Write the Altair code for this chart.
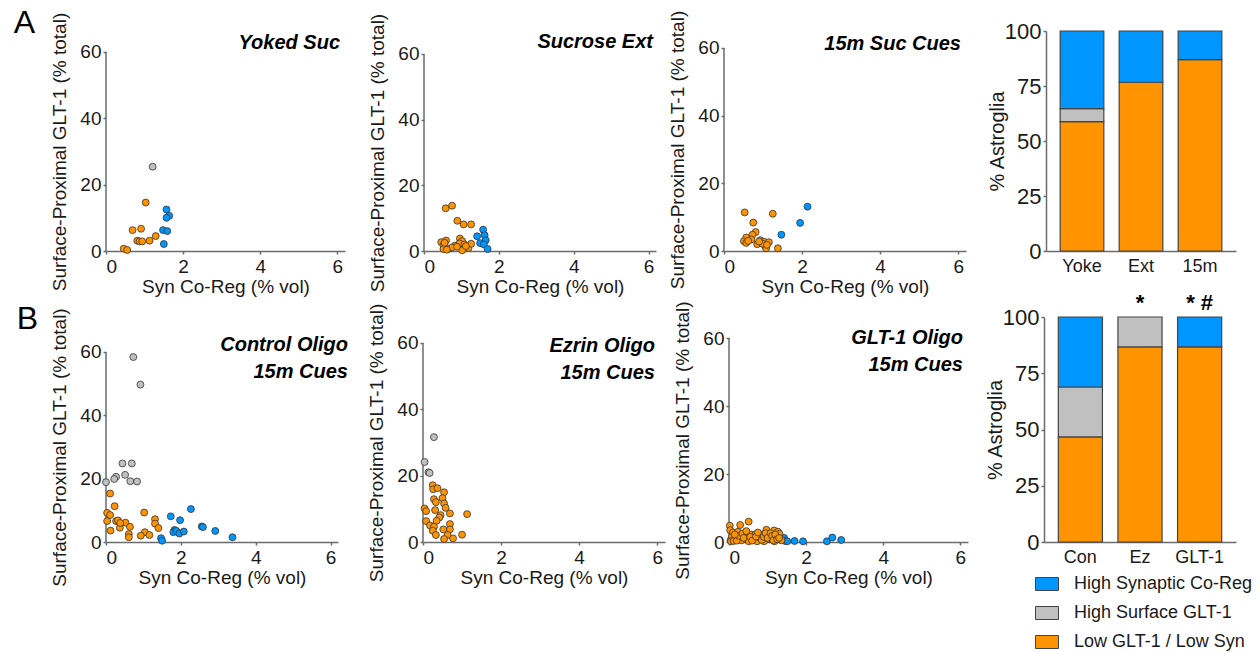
import altair as alt
import pandas as pd

FONT = "Liberation Sans"
INK = "#1a1a1a"
AXIS_GRAY = "#6b6b6b"

CATEGORIES = ["High Synaptic Co-Reg", "High Surface GLT-1", "Low GLT-1 / Low Syn"]
CAT_COLORS = ["#0096FF", "#C0C0C0", "#FF9300"]

# ---------------- Panel A1: Yoked Suc
yoked_low_x = [1.03, 0.69, 0.91, 1.29, 0.81, 0.87, 0.94, 1.13, 0.46, 0.55]
yoked_low_y = [14.6, 6.3, 6.7, 4.5, 3.1, 2.9, 2.9, 3.1, 0.7, 0.3]
yoked_surf_x = [1.21]
yoked_surf_y = [25.4]
yoked_syn_x = [1.57, 1.64, 1.57, 1.48, 1.59, 1.50]
yoked_syn_y = [12.5, 10.6, 10.0, 6.3, 6.0, 2.1]

# ---------------- Panel A2: Sucrose Ext
ext_low_x = [0.58, 0.75, 0.89, 1.06, 1.26, 0.46, 0.59, 0.52, 0.66, 0.52, 0.83, 0.96,
             1.02, 0.95, 1.08, 1.02, 1.19, 1.26, 0.75, 0.61, 0.55, 0.88, 1.12]
ext_low_y = [13.0, 13.8, 9.2, 8.1, 8.1, 2.7, 3.2, 1.75, 0.7, 0.6, 1.65, 3.8,
             3.0, 2.3, 2.0, 0.2, 0.9, 2.2, 1.1, 0.4, 2.5, 1.3, 1.5]
ext_surf_x = []
ext_surf_y = []
ext_syn_x = [1.58, 1.42, 1.62, 1.65, 1.50, 1.60, 1.70]
ext_syn_y = [6.5, 4.5, 4.8, 3.3, 2.4, 2.0, 0.6]

# ---------------- Panel A3: 15m Suc Cues
cue_low_x = [0.53, 1.25, 0.75, 0.81, 0.73, 0.57, 0.70, 0.51, 0.57, 0.93, 1.03, 1.15,
             0.85, 1.05, 1.08, 1.38, 0.98, 1.10, 0.62, 0.90]
cue_low_y = [11.4, 11.0, 8.4, 5.6, 4.8, 4.0, 3.4, 2.9, 2.4, 3.2, 2.7, 2.6,
             2.0, 1.5, 0.8, 0.8, 2.2, 1.8, 3.0, 2.8]
cue_surf_x = []
cue_surf_y = []
cue_syn_x = [2.14, 1.95, 1.47]
cue_syn_y = [13.1, 8.3, 4.8]

# ---------------- Panel B1: Control Oligo 15m Cues
con_low_x = [0.11, 0.23, 0.03, 0.11, 1.02, 0.03, 0.27, 0.32, 0.52, 1.31, 1.31,
             0.64, 0.37, 0.12, 1.40, 1.04, 0.61, 0.93, 1.16, 0.61, 0.38]
con_low_y = [15.3, 11.3, 9.2, 8.5, 9.3, 6.6, 6.6, 6.8, 6.1, 7.2, 5.8,
             4.8, 4.5, 3.6, 4.4, 3.1, 2.5, 2.0, 2.2, 1.5, 6.0]
con_surf_x = [0.73, 0.92, 0.44, 0.69, 0.51, 0.27, 0.22, 0.65, 0.83, 0.00]
con_surf_y = [58.4, 49.7, 24.8, 24.8, 21.2, 20.6, 19.9, 19.2, 19.1, 18.9]
con_syn_x = [1.73, 2.27, 1.98, 1.83, 1.80, 1.88, 1.96, 2.08, 2.56, 2.59, 2.92, 3.38, 1.47, 1.50]
con_syn_y = [8.1, 10.4, 6.9, 3.8, 3.1, 3.5, 2.7, 3.3, 4.9, 4.7, 3.5, 1.5, 1.2, 0.4]

# ---------------- Panel B2: Ezrin Oligo 15m Cues
ez_low_x = [0.25, 0.26, 0.37, 0.54, 0.28, 0.50, 0.33, 0.54, 0.58, 0.04, 0.08, 0.31, 0.45,
            0.69, 1.13, 0.42, 0.35, 0.08, 0.69, 0.18, 0.28, 0.69, 0.52, 0.25, 0.33, 0.63,
            1.00, 0.54, 0.77]
ez_low_y = [17.1, 15.9, 16.2, 15.0, 12.9, 13.2, 12.0, 11.6, 10.3, 10.1, 9.3, 9.6, 8.1,
            8.6, 8.4, 7.4, 6.4, 6.3, 5.4, 5.0, 4.6, 3.8, 3.8, 3.4, 2.1, 2.1,
            2.2, 0.9, 1.1]
ez_surf_x = [0.28, 0.04, 0.14, 0.17]
ez_surf_y = [31.6, 24.1, 21.0, 20.8]
ez_syn_x = []
ez_syn_y = []

# ---------------- Panel B3: GLT-1 Oligo 15m Cues
glt_low_x = [0.02, 0.03, 0.29, 0.51, 0.10, 0.23, 0.04, 0.08, 0.16, 0.32, 0.41, 0.45, 0.51,
             0.58, 0.62, 0.68, 0.73, 0.80, 0.86, 0.91, 0.97, 1.01, 1.05, 1.17, 1.23, 1.27,
             1.31, 1.10, 1.18, 1.36, 0.05, 0.12, 0.20, 0.25, 0.35, 0.38, 0.55, 0.60, 0.70,
             0.75, 0.85, 0.90, 0.95, 1.00, 1.08, 1.12, 1.15, 1.20, 1.25, 1.30, 0.45, 0.15]
glt_low_y = [4.8, 3.5, 5.0, 6.0, 2.8, 3.0, 0.5, 1.5, 1.0, 0.5, 2.0, 1.0, 0.2,
             2.2, 1.0, 2.2, 0.2, 1.2, 2.2, 0.2, 3.6, 2.0, 0.8, 3.4, 1.6, 3.0,
             2.4, 1.0, 0.2, 0.5, 0.2, 0.3, 0.4, 1.8, 2.5, 1.2, 1.5, 0.4, 1.6,
             2.8, 0.6, 1.5, 2.6, 1.2, 2.6, 1.8, 0.5, 2.2, 0.8, 1.2, 3.2, 2.2]
glt_surf_x = []
glt_surf_y = []
glt_syn_x = [1.43, 1.46, 1.51, 1.70, 1.92, 2.54, 2.68, 2.91]
glt_syn_y = [1.2, 0.3, 0.2, 0.3, 0.2, 0.2, 1.3, 0.6]

# ---------------- Stacked bars (% Astroglia)
bar_a_groups = ["Yoke", "Ext", "15m"]
bar_a_low = [58.8, 76.7, 87.0]
bar_a_surf = [5.9, 0.0, 0.0]
bar_a_syn = [35.3, 23.3, 13.0]
bar_a_marks = ["", "", ""]

bar_b_groups = ["Con", "Ez", "GLT-1"]
bar_b_low = [46.7, 86.7, 86.7]
bar_b_surf = [22.2, 13.3, 0.0]
bar_b_syn = [31.1, 0.0, 13.3]
bar_b_marks = ["", "*", "* #"]

COLOR_SCALE = alt.Scale(domain=CATEGORIES, range=CAT_COLORS)


def points_df(low, surf, syn):
    rows = []
    for (xs, ys), cat in zip((syn, surf, low), CATEGORIES):
        for x, y in zip(xs, ys):
            rows.append({"x": x, "y": y, "cat": cat})
    return pd.DataFrame(rows)


def scatter(low, surf, syn, title, w, h, ymax, tdx, tdy, letter=None, ldx=0, ldy=0):
    df = points_df(low, surf, syn)
    xs = alt.Scale(domain=[0, 6.2], nice=False, zero=True)
    ys = alt.Scale(domain=[0, ymax], nice=False, zero=True)
    xaxis = alt.Axis(values=[0, 2, 4, 6], title="Syn Co-Reg (% vol)", titlePadding=1,
                     labelPadding=3)
    yaxis = alt.Axis(values=[0, 20, 40, 60], domain=False,
                     title="Surface-Proximal GLT-1 (% total)",
                     titleY=h * (1 - 30.0 / ymax), titlePadding=10)
    line = alt.Chart(pd.DataFrame({"k": [0]})).mark_rule(
        color=AXIS_GRAY, strokeWidth=1.5).encode(
        x=alt.XDatum(0, type="quantitative", scale=xs, axis=xaxis),
        y=alt.YDatum(0, type="quantitative", scale=ys, axis=yaxis),
        y2=alt.Y2Datum(60),
    )
    pts = alt.Chart(df).mark_circle(size=48, opacity=1, stroke="#333333",
                                    strokeWidth=0.8).encode(
        x=alt.X("x:Q", scale=xs, axis=xaxis),
        y=alt.Y("y:Q", scale=ys, axis=yaxis),
        color=alt.Color("cat:N", scale=COLOR_SCALE, legend=None),
    )
    txt = alt.Chart(pd.DataFrame({"t": [title]})).mark_text(
        align="right", baseline="alphabetic", dx=tdx, dy=tdy, font=FONT,
        fontSize=20, fontWeight="bold", fontStyle="italic", lineBreak="\n",
        lineHeight=27, color="#000000").encode(
        x=alt.XDatum(6.2, type="quantitative", scale=xs, axis=xaxis),
        y=alt.YDatum(60, type="quantitative", scale=ys, axis=yaxis),
        text="t:N",
    )
    props = dict(width=w, height=h)
    if letter:
        props["title"] = alt.TitleParams(letter, anchor="start", frame="bounds",
                                         dx=ldx, dy=ldy, fontSize=32,
                                         fontWeight="normal", font=FONT,
                                         color="#000000")
    return alt.layer(line, pts, txt).properties(**props)


def bars(groups, low, surf, syn, marks, w, h, legend=None):
    rows = []
    for g, l, s, b in zip(groups, low, surf, syn):
        for cat, v, o in ((CATEGORIES[2], l, 0), (CATEGORIES[1], s, 1), (CATEGORIES[0], b, 2)):
            if v > 0:
                rows.append({"g": g, "v": v, "cat": cat, "o": o})
    df = pd.DataFrame(rows)
    xsc = alt.Scale(domain=groups, paddingInner=0.26, paddingOuter=0.24)
    xaxis = alt.Axis(title=None, labelAngle=0, ticks=False, labelPadding=6,
                     labelFontSize=18)
    base = alt.Chart(df).mark_bar(stroke="#444444", strokeWidth=1.2).encode(
        x=alt.X("g:N", scale=xsc, sort=groups, axis=xaxis),
        y=alt.Y("v:Q", stack="zero", scale=alt.Scale(domain=[0, 100], nice=False),
                axis=alt.Axis(values=[0, 25, 50, 75, 100], title="% Astroglia",
                              labelFontSize=22, titleFontSize=20, titlePadding=-3)),
        color=alt.Color("cat:N", scale=COLOR_SCALE, legend=legend),
        order=alt.Order("o:Q", sort="ascending"),
    )
    layers = [base]
    if any(marks):
        star = alt.Chart(pd.DataFrame({"g": groups, "s": marks})).mark_text(
            baseline="alphabetic", dy=-7, fontSize=22, fontWeight="bold",
            font=FONT, color="#000000").encode(
            x=alt.X("g:N", scale=xsc, sort=groups, axis=xaxis),
            y=alt.YDatum(100, type="quantitative"),
            text="s:N",
        )
        layers.append(star)
    return alt.layer(*layers).properties(width=w, height=h)


def chain(panels, spacings):
    if len(panels) == 1:
        return panels[0]
    inner = chain(panels[1:], spacings[1:])
    return alt.hconcat(panels[0], inner, spacing=spacings[0]).resolve_scale(
        color="independent").resolve_legend(color="independent")


HA = 220
HB = 225

a1 = scatter((yoked_low_x, yoked_low_y), (yoked_surf_x, yoked_surf_y),
             (yoked_syn_x, yoked_syn_y), "Yoked Suc", 239, HA, 66.3, -5, -3,
             letter="A", ldx=-37, ldy=32)
a2 = scatter((ext_low_x, ext_low_y), (ext_surf_x, ext_surf_y), (ext_syn_x, ext_syn_y),
             "Sucrose Ext", 232, HA, 67.0, -3, -6)
a3 = scatter((cue_low_x, cue_low_y), (cue_surf_x, cue_surf_y), (cue_syn_x, cue_syn_y),
             "15m Suc Cues", 242, HA, 65.0, -5, 2)
bar_a = bars(bar_a_groups, bar_a_low, bar_a_surf, bar_a_syn, bar_a_marks, 190, HA)

b1 = scatter((con_low_x, con_low_y), (con_surf_x, con_surf_y), (con_syn_x, con_syn_y),
             "Control Oligo\n15m Cues", 232, HB, 71.05, 10, -1,
             letter="B", ldx=-34, ldy=32)
b2 = scatter((ez_low_x, ez_low_y), (ez_surf_x, ez_surf_y), (ez_syn_x, ez_syn_y),
             "Ezrin Oligo\n15m Cues", 242, HB, 67.8, -10, 9)
b3 = scatter((glt_low_x, glt_low_y), (glt_surf_x, glt_surf_y), (glt_syn_x, glt_syn_y),
             "GLT-1 Oligo\n15m Cues", 239, HB, 66.2, -5, 6)
legend = alt.Legend(orient="none", legendX=-6, legendY=258, title=None,
                    symbolType="M-1.77,-1L1.77,-1L1.77,1L-1.77,1Z", symbolSize=169,
                    symbolStrokeColor="#444444", symbolStrokeWidth=1, symbolOpacity=1,
                    labelFont=FONT, labelFontSize=18, labelColor=INK, labelOffset=18,
                    labelLimit=400, rowPadding=11, direction="vertical")
bar_b = bars(bar_b_groups, bar_b_low, bar_b_surf, bar_b_syn, bar_b_marks, 192, HB,
             legend=legend)

row_a = chain([a1, a2, a3, bar_a], [23, 12, 21])
row_b = chain([b1, b2, b3, bar_b], [19, 8, 17])

chart = alt.vconcat(row_a, row_b, spacing=-4).resolve_scale(
    color="independent").resolve_legend(color="independent").properties(
    padding={"left": 13, "top": 7, "right": 5, "bottom": 5},
    background="#ffffff",
).configure_view(stroke=None).configure_axis(
    labelFont=FONT, titleFont=FONT, labelFontSize=19, titleFontSize=19,
    labelColor=INK, titleColor=INK, titleFontWeight="normal",
    domainColor=AXIS_GRAY, tickColor=AXIS_GRAY, domainWidth=1.5, tickWidth=1.5,
    tickSize=3, labelPadding=2, grid=False,
)

chart.save("out.html", embed_options={"renderer": "svg", "actions": False})
